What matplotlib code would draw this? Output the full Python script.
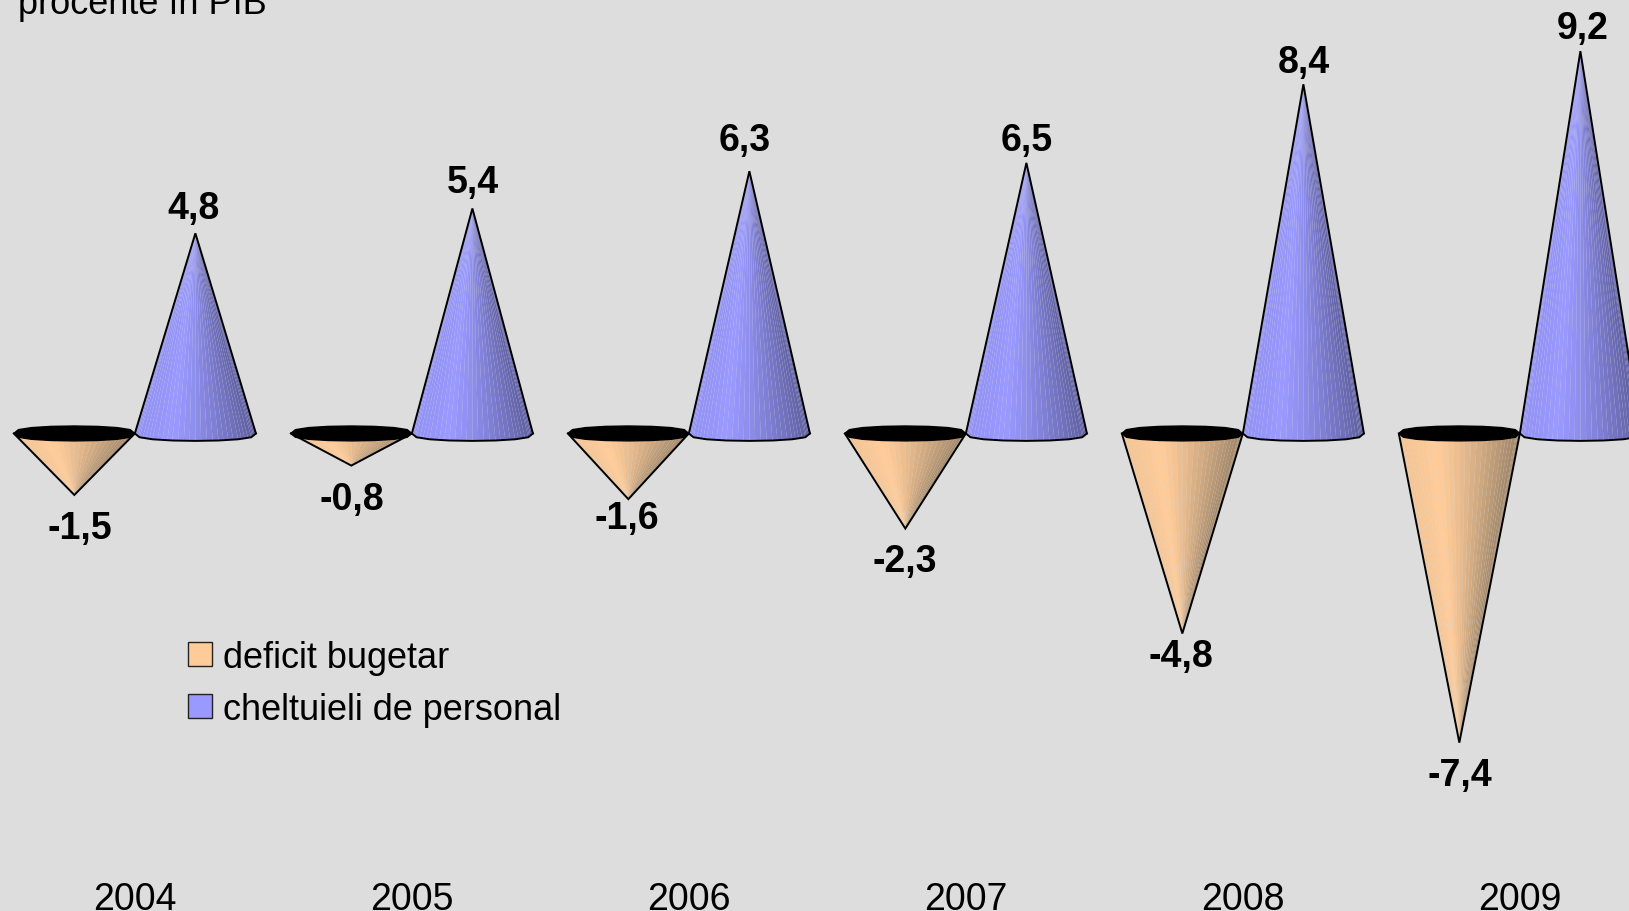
import numpy as np
import matplotlib.pyplot as plt
from matplotlib.patches import Patch, Polygon
from matplotlib.colors import to_rgb

plt.rcParams['font.family'] = ['Liberation Sans', 'DejaVu Sans']

# Date
ani = ['2004', '2005', '2006', '2007', '2008', '2009']
deficit = [-1.5, -0.8, -1.6, -2.3, -4.8, -7.4]
cheltuieli = [4.8, 5.4, 6.3, 6.5, 8.4, 9.2]
etichete_deficit = ['-1,5', '-0,8', '-1,6', '-2,3', '-4,8', '-7,4']
etichete_cheltuieli = ['4,8', '5,4', '6,3', '6,5', '8,4', '9,2']

# Decalaje etichete (pixeli fata de varf)
dec_deficit = [(5, -33), (0, -33), (-2, -19), (-1, -32), (-1, -22), (1, -32)]
dec_cheltuieli = [(-2, 25), (1, 26), (-5, 31), (0, 23), (0, 22), (2, 23)]

DPI = 100
LAT = 0.2185      # raza conului (unitati categorie)
RIM = 0.18        # semi-inaltimea bazei (unitati y)
Y0 = -0.035       # centrul bazei, putin sub zero
SCARA_NEG = 1.014 # conurile de jos sunt putin mai lungi in perspectiva


def margine(t):
    # baza nu e elipsa neteda, ci poligon cu 16 laturi, mai plin pe umeri
    tc = np.linspace(0, 2 * np.pi, 17)
    sc = np.sign(np.sin(tc)) * np.abs(np.sin(tc)) ** 0.7
    return np.interp(t, tc, np.cos(tc)), np.interp(t, tc, sc)


def culoare(u, baza, umbra):
    # lumina vine din stanga-fata
    lum = 0.30
    if u < lum:
        k = 0.12 * (lum - u) / lum
    else:
        k = ((u - lum) / (1 - lum)) ** 1.25
    return tuple((1 - k) * a + k * b for a, b in zip(to_rgb(baza), to_rgb(umbra)))


def con(ax, x, v, baza, umbra):
    t = np.linspace(np.pi, 2 * np.pi, 33)
    cx, cy = margine(t)
    rx = x + LAT * cx
    ry = Y0 + RIM * cy
    for i in range(len(t) - 1):
        u = (rx[i] + rx[i + 1] - 2 * x + 2 * LAT) / (4 * LAT)
        ax.add_patch(Polygon([(x, v), (rx[i], ry[i]), (rx[i + 1], ry[i + 1])],
                             facecolor=culoare(u, baza, umbra), edgecolor='none', zorder=2))
    ax.plot([x - LAT, x, x + LAT], [Y0, v, Y0], color='black', lw=1.4, zorder=3, solid_joinstyle='miter')


fig = plt.figure(figsize=(16.29, 9.12), dpi=DPI, facecolor='#DDDDDD')
ax = fig.add_axes([0, 52 / 912, 1, 860 / 912])
ax.set_facecolor('#DDDDDD')
ax.set_xlim(-135 / 277, (1629 - 135) / 277)
ax.set_ylim(-427 / 41.4, 433 / 41.4)

for i in range(len(ani)):
    # deficit: con cu varful in jos, interior negru sus
    con(ax, i - 0.219, deficit[i] * SCARA_NEG, '#FFCC99', '#9C8468')
    t = np.linspace(0, 2 * np.pi, 17)
    cx, cy = margine(t)
    ax.add_patch(Polygon(np.c_[i - 0.219 + LAT * cx, Y0 + RIM * cy],
                         facecolor='black', edgecolor='black', lw=1, zorder=4))
    # cheltuieli: con cu varful in sus
    con(ax, i + 0.218, cheltuieli[i], '#9999FF', '#5F5FA0')
    t = np.linspace(np.pi, 2 * np.pi, 9)
    cx, cy = margine(t)
    ax.plot(i + 0.218 + LAT * cx, Y0 + RIM * cy, color='black', lw=1.4, zorder=3)

    ax.annotate(etichete_deficit[i], (i - 0.219, deficit[i] * SCARA_NEG),
                xytext=(dec_deficit[i][0] * 72 / DPI, dec_deficit[i][1] * 72 / DPI), textcoords='offset points',
                ha='center', va='center', fontsize=27, fontweight='bold', zorder=5)
    ax.annotate(etichete_cheltuieli[i], (i + 0.218, cheltuieli[i]),
                xytext=(dec_cheltuieli[i][0] * 72 / DPI, dec_cheltuieli[i][1] * 72 / DPI), textcoords='offset points',
                ha='center', va='center', fontsize=27, fontweight='bold', zorder=5)

ax.set_xticks(range(len(ani)))
ax.set_xticklabels(ani, fontsize=27)
ax.set_yticks([])
ax.tick_params(axis='x', length=0, pad=15.5)
for s in ax.spines.values():
    s.set_visible(False)

ax.legend(handles=[Patch(facecolor='#FFCC99', edgecolor='#222222', label='deficit bugetar'),
                   Patch(facecolor='#9999FF', edgecolor='#222222', label='cheltuieli de personal')],
          loc='upper left', bbox_to_anchor=(188 / 1629, (860 - 641) / 860), frameon=False, fontsize=26,
          handlelength=0.66, handleheight=0.66, handletextpad=0.32, labelspacing=0.47, borderpad=0, borderaxespad=0)

fig.text(18 / 1629, 1 - 14 / 912, 'procente în PIB', fontsize=26, ha='left', va='baseline')

fig.savefig('out.png', dpi=DPI, facecolor=fig.get_facecolor())
